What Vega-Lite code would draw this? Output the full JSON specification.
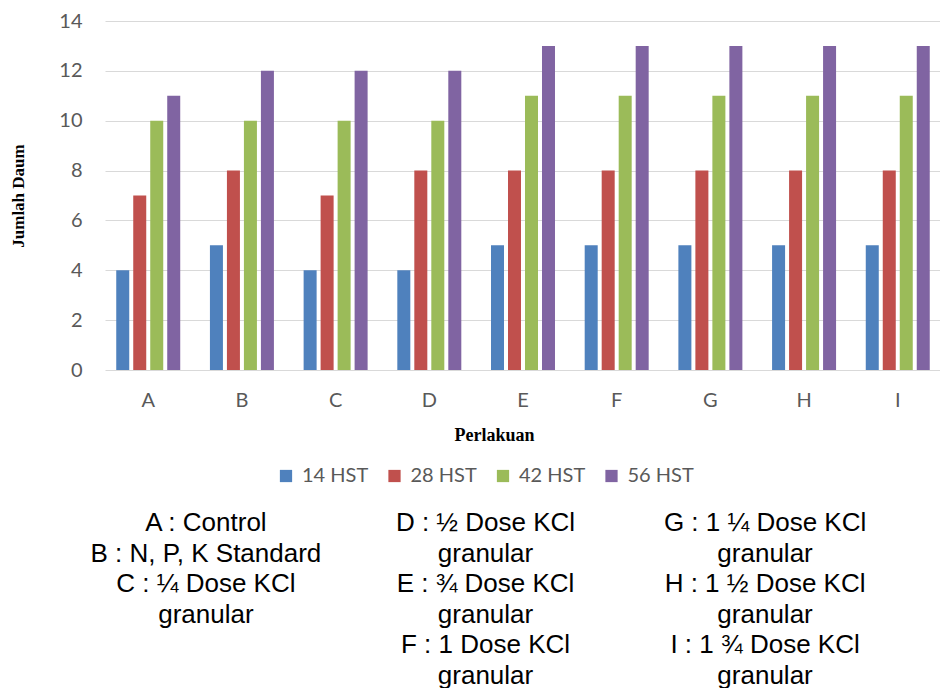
{
  "$schema": "https://vega.github.io/schema/vega-lite/v6.json",
  "background": "white",
  "padding": {"left": 9, "top": 11, "right": 0, "bottom": 0},
  "spacing": 66,
  "config": {"view": {"stroke": null}},
  "vconcat": [
    {
      "width": 836,
      "height": 349,
      "data": {"values": [
        {"perlakuan": "A", "hst": "14 HST", "daun": 4},
        {"perlakuan": "A", "hst": "28 HST", "daun": 7},
        {"perlakuan": "A", "hst": "42 HST", "daun": 10},
        {"perlakuan": "A", "hst": "56 HST", "daun": 11},
        {"perlakuan": "B", "hst": "14 HST", "daun": 5},
        {"perlakuan": "B", "hst": "28 HST", "daun": 8},
        {"perlakuan": "B", "hst": "42 HST", "daun": 10},
        {"perlakuan": "B", "hst": "56 HST", "daun": 12},
        {"perlakuan": "C", "hst": "14 HST", "daun": 4},
        {"perlakuan": "C", "hst": "28 HST", "daun": 7},
        {"perlakuan": "C", "hst": "42 HST", "daun": 10},
        {"perlakuan": "C", "hst": "56 HST", "daun": 12},
        {"perlakuan": "D", "hst": "14 HST", "daun": 4},
        {"perlakuan": "D", "hst": "28 HST", "daun": 8},
        {"perlakuan": "D", "hst": "42 HST", "daun": 10},
        {"perlakuan": "D", "hst": "56 HST", "daun": 12},
        {"perlakuan": "E", "hst": "14 HST", "daun": 5},
        {"perlakuan": "E", "hst": "28 HST", "daun": 8},
        {"perlakuan": "E", "hst": "42 HST", "daun": 11},
        {"perlakuan": "E", "hst": "56 HST", "daun": 13},
        {"perlakuan": "F", "hst": "14 HST", "daun": 5},
        {"perlakuan": "F", "hst": "28 HST", "daun": 8},
        {"perlakuan": "F", "hst": "42 HST", "daun": 11},
        {"perlakuan": "F", "hst": "56 HST", "daun": 13},
        {"perlakuan": "G", "hst": "14 HST", "daun": 5},
        {"perlakuan": "G", "hst": "28 HST", "daun": 8},
        {"perlakuan": "G", "hst": "42 HST", "daun": 11},
        {"perlakuan": "G", "hst": "56 HST", "daun": 13},
        {"perlakuan": "H", "hst": "14 HST", "daun": 5},
        {"perlakuan": "H", "hst": "28 HST", "daun": 8},
        {"perlakuan": "H", "hst": "42 HST", "daun": 11},
        {"perlakuan": "H", "hst": "56 HST", "daun": 13},
        {"perlakuan": "I", "hst": "14 HST", "daun": 5},
        {"perlakuan": "I", "hst": "28 HST", "daun": 8},
        {"perlakuan": "I", "hst": "42 HST", "daun": 11},
        {"perlakuan": "I", "hst": "56 HST", "daun": 13}
      ]},
      "mark": {"type": "bar"},
      "encoding": {
        "x": {
          "field": "perlakuan", "type": "nominal",
          "scale": {"paddingInner": 0.317, "paddingOuter": 0.12},
          "axis": {
            "labelAngle": 0, "domain": false, "ticks": false, "grid": false,
            "labelPadding": 20, "labelFont": "Lato", "labelFontSize": 20, "labelColor": "#595959",
            "title": "Perlakuan", "titleFont": "Liberation Serif", "titleFontWeight": "bold",
            "titleFontSize": 18, "titleColor": "#000000", "titlePadding": 16, "titleX": 389
          }
        },
        "xOffset": {
          "field": "hst", "type": "nominal",
          "scale": {"paddingInner": 0.235, "paddingOuter": 0}
        },
        "y": {
          "field": "daun", "type": "quantitative",
          "scale": {"domain": [0, 14], "nice": false},
          "axis": {
            "values": [0, 2, 4, 6, 8, 10, 12, 14],
            "domain": false, "ticks": false,
            "labelPadding": 23, "labelFont": "Lato", "labelFontSize": 20, "labelColor": "#595959",
            "gridColor": "#d9d9d9", "gridWidth": 1.2,
            "title": "Jumlah Daum", "titleFont": "Liberation Serif", "titleFontWeight": "bold",
            "titleFontSize": 17, "titleColor": "#000000", "titlePadding": 31
          }
        },
        "color": {
          "field": "hst", "type": "nominal",
          "scale": {
            "domain": ["14 HST", "28 HST", "42 HST", "56 HST"],
            "range": ["#4F81BD", "#C0504D", "#9BBB59", "#8064A2"]
          },
          "legend": {
            "orient": "none", "legendX": 171, "legendY": 445,
            "direction": "horizontal", "title": null,
            "symbolType": "square", "symbolSize": 150, "symbolStrokeWidth": 0,
            "labelFont": "Lato", "labelFontSize": 20, "labelColor": "#595959",
            "labelOffset": 6, "columnPadding": 15.5, "padding": 0
          }
        }
      }
    },
    {
      "width": 761,
      "height": 153,
      "data": {"values": [
        {"col": 1, "line": 1, "txt": "A : Control"},
        {"col": 1, "line": 2, "txt": "B : N, P, K Standard"},
        {"col": 1, "line": 3, "txt": "C : ¼ Dose KCl"},
        {"col": 1, "line": 4, "txt": "granular"},
        {"col": 2, "line": 1, "txt": "D : ½ Dose KCl"},
        {"col": 2, "line": 2, "txt": "granular"},
        {"col": 2, "line": 3, "txt": "E : ¾  Dose KCl"},
        {"col": 2, "line": 4, "txt": "granular"},
        {"col": 2, "line": 5, "txt": "F : 1 Dose KCl"},
        {"col": 2, "line": 6, "txt": "granular"},
        {"col": 3, "line": 1, "txt": "G : 1 ¼ Dose KCl"},
        {"col": 3, "line": 2, "txt": "granular"},
        {"col": 3, "line": 3, "txt": "H : 1 ½ Dose KCl"},
        {"col": 3, "line": 4, "txt": "granular"},
        {"col": 3, "line": 5, "txt": "I : 1 ¾  Dose KCl"},
        {"col": 3, "line": 6, "txt": "granular"}
      ]},
      "mark": {"type": "text", "font": "Liberation Sans", "fontSize": 26, "color": "#000000"},
      "encoding": {
        "x": {"field": "col", "type": "ordinal", "scale": {"type": "point", "padding": 0.361}, "axis": null},
        "y": {"field": "line", "type": "ordinal", "scale": {"type": "point", "padding": 0}, "axis": null},
        "text": {"field": "txt"}
      }
    }
  ]
}
